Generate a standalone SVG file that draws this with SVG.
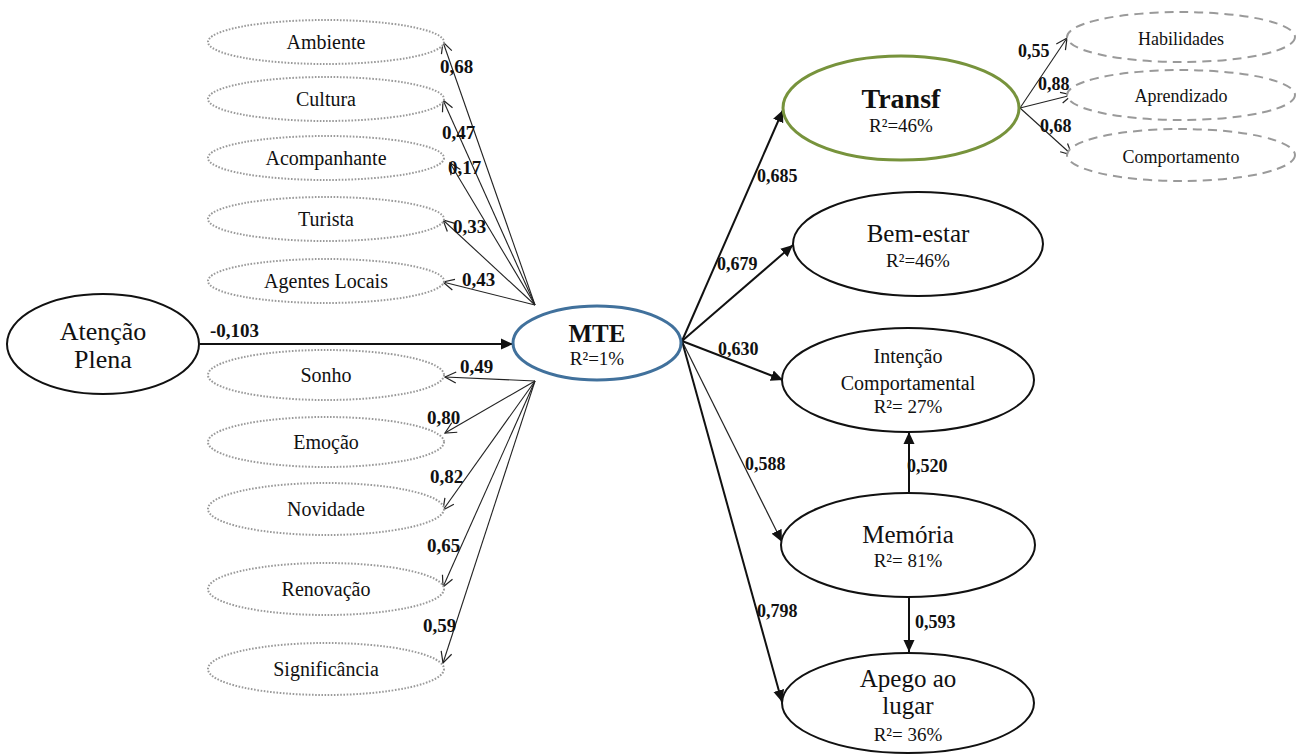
<svg xmlns="http://www.w3.org/2000/svg" width="1305" height="754" viewBox="0 0 1305 754">
<style>
text{font-family:"Liberation Serif","Times New Roman",serif;fill:#111;text-anchor:middle}
.lbl{font-weight:bold;text-anchor:start;font-size:18px}
.lbl19{font-weight:bold;text-anchor:start;font-size:19px}
.dot{fill:#fff;stroke:#9a9a9a;stroke-width:2;stroke-dasharray:1.6 1.6}
.dash{fill:#fff;stroke:#9a9a9a;stroke-width:2;stroke-dasharray:9 6}
.solid{fill:#fff;stroke:#111;stroke-width:2}
.thin{stroke:#222;stroke-width:1.1;fill:none;marker-end:url(#open)}
.thick{stroke:#111;stroke-width:2;fill:none;marker-end:url(#fill)}
.med{stroke:#222;stroke-width:1.2;fill:none;marker-end:url(#fill)}
.n20{font-size:20px}
.n18{font-size:18px}
.n25{font-size:25px}
.r19{font-size:19px}
</style>
<defs>
<marker id="open" markerWidth="14" markerHeight="14" refX="12" refY="7" orient="auto" markerUnits="userSpaceOnUse"><path d="M1,1.5 L12,7 L1,12.5" fill="none" stroke="#222" stroke-width="1.2"/></marker>
<marker id="fill" markerWidth="14" markerHeight="12" refX="12" refY="6" orient="auto" markerUnits="userSpaceOnUse"><path d="M0,0.5 L12,6 L0,11.5 z" fill="#111"/></marker>
</defs>
<rect width="1305" height="754" fill="#fff"/>

<g id="connectors">
<line class="thin" x1="535" y1="305" x2="443" y2="42"/>
<line class="thin" x1="535" y1="305" x2="443" y2="100"/>
<line class="thin" x1="535" y1="305" x2="450" y2="163"/>
<line class="thin" x1="535" y1="305" x2="443" y2="220"/>
<line class="thin" x1="535" y1="305" x2="443" y2="282"/>
<line class="thin" x1="535" y1="381" x2="445" y2="377"/>
<line class="thin" x1="535" y1="381" x2="445" y2="433"/>
<line class="thin" x1="535" y1="381" x2="443" y2="510"/>
<line class="thin" x1="535" y1="381" x2="443" y2="587"/>
<line class="thin" x1="535" y1="381" x2="443" y2="663"/>
<line class="thick" x1="200" y1="344" x2="513" y2="344"/>
<line class="thick" x1="682" y1="341" x2="783" y2="110"/>
<line class="thick" x1="682" y1="341" x2="793" y2="245"/>
<line class="thick" x1="682" y1="341" x2="783" y2="380"/>
<line class="med" x1="682" y1="341" x2="782" y2="542"/>
<line class="thick" x1="682" y1="341" x2="782" y2="702"/>
<line class="thick" x1="909" y1="493" x2="909" y2="432"/>
<line class="thick" x1="909" y1="597" x2="909" y2="652"/>
<line class="thin" x1="1020" y1="108" x2="1067" y2="38"/>
<line class="thin" x1="1020" y1="108" x2="1072" y2="95"/>
<line class="thin" x1="1020" y1="108" x2="1072" y2="155"/>
<text class="lbl19" x="440" y="73">0,68</text>
<text class="lbl19" x="442" y="139">0,47</text>
<text class="lbl19" x="448" y="174">0,17</text>
<text class="lbl19" x="453" y="233">0,33</text>
<text class="lbl19" x="462" y="286">0,43</text>
<text class="lbl19" x="460" y="373">0,49</text>
<text class="lbl19" x="427" y="424">0,80</text>
<text class="lbl19" x="430" y="483">0,82</text>
<text class="lbl19" x="427" y="552">0,65</text>
<text class="lbl19" x="423" y="632">0,59</text>
<text class="lbl19" x="210" y="337">-0,103</text>
<text class="lbl" x="757" y="182">0,685</text>
<text class="lbl" x="717" y="270">0,679</text>
<text class="lbl" x="718" y="355">0,630</text>
<text class="lbl" x="745" y="470">0,588</text>
<text class="lbl" x="757" y="617">0,798</text>
<text class="lbl" x="907" y="472">0,520</text>
<text class="lbl" x="915" y="628">0,593</text>
<text class="lbl" x="1018" y="57">0,55</text>
<text class="lbl" x="1038" y="90">0,88</text>
<text class="lbl" x="1040" y="132">0,68</text>
</g>

<g id="ambiente"><ellipse class="dot" cx="326" cy="42" rx="118" ry="22"/><text class="n20" x="326" y="49">Ambiente</text></g>
<g id="cultura"><ellipse class="dot" cx="326" cy="99" rx="118" ry="22"/><text class="n20" x="326" y="106">Cultura</text></g>
<g id="acompanhante"><ellipse class="dot" cx="326" cy="158" rx="118" ry="22"/><text class="n20" x="326" y="165">Acompanhante</text></g>
<g id="turista"><ellipse class="dot" cx="326" cy="219" rx="118" ry="22"/><text class="n20" x="326" y="226">Turista</text></g>
<g id="agentes"><ellipse class="dot" cx="326" cy="281" rx="118" ry="22"/><text class="n20" x="326" y="288">Agentes  Locais</text></g>
<g id="sonho"><ellipse class="dot" cx="326" cy="375" rx="118" ry="25"/><text class="n20" x="326" y="382">Sonho</text></g>
<g id="emocao"><ellipse class="dot" cx="326" cy="442" rx="118" ry="25"/><text class="n20" x="326" y="449">Emoção</text></g>
<g id="novidade"><ellipse class="dot" cx="326" cy="509" rx="118" ry="26"/><text class="n20" x="326" y="516">Novidade</text></g>
<g id="renovacao"><ellipse class="dot" cx="326" cy="589" rx="118" ry="26"/><text class="n20" x="326" y="596">Renovação</text></g>
<g id="significancia"><ellipse class="dot" cx="326" cy="669" rx="118" ry="26"/><text class="n20" x="326" y="676">Significância</text></g>

<g id="atencao"><ellipse class="solid" cx="103" cy="344" rx="96" ry="50"/><text x="103" y="340" style="font-size:26px">Atenção</text><text x="103" y="368" style="font-size:26px">Plena</text></g>
<g id="mte"><ellipse cx="597" cy="343" rx="84" ry="37" fill="#fff" stroke="#41719C" stroke-width="3"/><text x="597" y="342" style="font-size:25px;font-weight:bold">MTE</text><text class="r19" x="597" y="365">R²=1%</text></g>

<g id="transf"><ellipse cx="901" cy="108" rx="118" ry="52" fill="#fff" stroke="#77933C" stroke-width="3"/><text x="901" y="108" style="font-size:28px;font-weight:bold">Transf</text><text class="r19" x="901" y="132">R²=46%</text></g>
<g id="habilidades"><ellipse class="dash" cx="1181" cy="37" rx="114" ry="25"/><text class="n18" x="1181" y="45">Habilidades</text></g>
<g id="aprendizado"><ellipse class="dash" cx="1181" cy="95" rx="114" ry="25"/><text class="n18" x="1181" y="102">Aprendizado</text></g>
<g id="comportamento"><ellipse class="dash" cx="1181" cy="155" rx="114" ry="26"/><text class="n18" x="1181" y="163">Comportamento</text></g>

<g id="bemestar"><ellipse class="solid" cx="918" cy="244" rx="125" ry="52"/><text class="n25" x="918" y="242">Bem-estar</text><text class="r19" x="918" y="267">R²=46%</text></g>
<g id="intencao"><ellipse class="solid" cx="908" cy="380" rx="126" ry="52"/><text class="n20" x="908" y="363">Intenção</text><text class="n20" x="908" y="390">Comportamental</text><text class="r19" x="908" y="413">R²= 27%</text></g>
<g id="memoria"><ellipse class="solid" cx="908" cy="545" rx="127" ry="52"/><text class="n25" x="908" y="543">Memória</text><text class="r19" x="908" y="567">R²= 81%</text></g>
<g id="apego"><ellipse class="solid" cx="908" cy="703" rx="126" ry="50"/><text class="n25" x="908" y="687">Apego ao</text><text class="n25" x="908" y="714">lugar</text><text class="r19" x="908" y="741">R²= 36%</text></g>
</svg>
